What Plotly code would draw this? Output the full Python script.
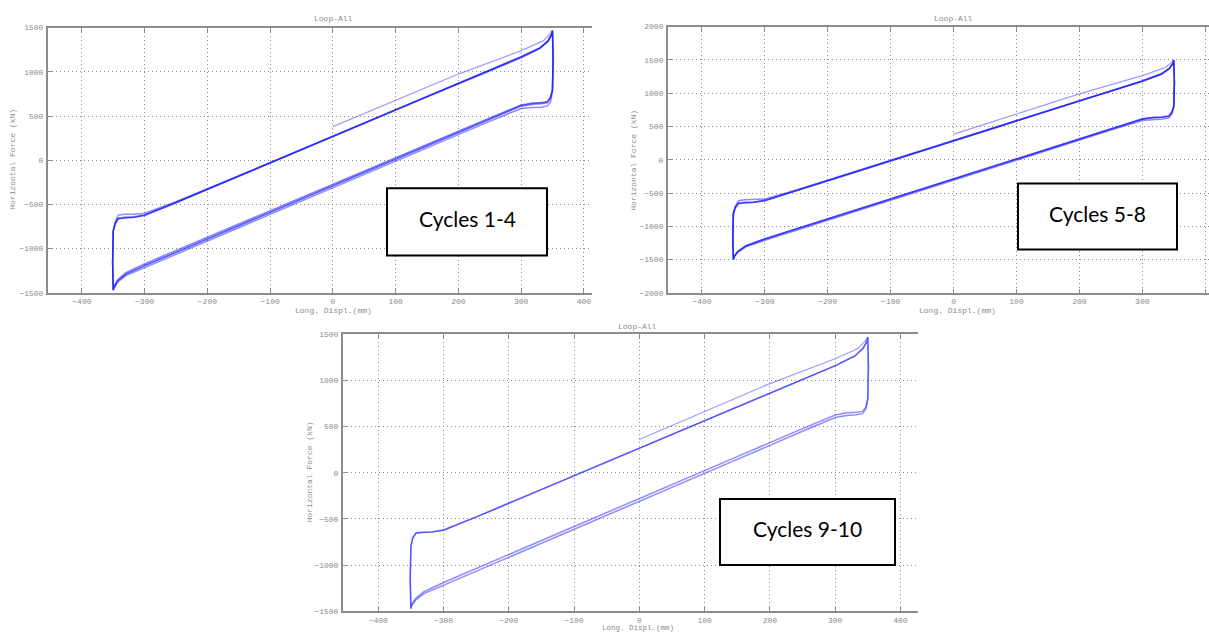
import plotly.graph_objects as go

W, H = 1209, 637

# ---------------- data ----------------
# displacement path around one hysteresis loop (mm)
DISP_LOOP = [-347, -342, -332, -318, -300, -250, -150, -50, 50, 150, 250, 300, 330, 343, 349, 350,
             351, 350, 347, 342, 332, 318, 300, 250, 150, 50, -50, -150, -250, -300, -330, -343,
             -349, -350, -351, -350, -347]
# first loading segment (starts at zero displacement)
DISP_INIT = [0, 100, 200, 300, 335, 345, 350]

# Horizontal force (kN) per cycle, following DISP_LOOP
CYCLE_1 = [-720, -665, -652, -648, -625, -480, -180, 120, 420, 720, 1020, 1170, 1270, 1350, 1430, 1470,
           1150, 800, 720, 665, 652, 648, 625, 480, 180, -120, -420, -720, -1020, -1170, -1270, -1350,
           -1430, -1470, -1150, -800, -720]
CYCLE_2 = [-700, -620, -610, -612, -600, -470, -175, 125, 425, 720, 1010, 1160, 1265, 1345, 1425, 1460,
           1140, 780, 660, 615, 600, 598, 585, 440, 140, -160, -460, -760, -1060, -1215, -1305, -1380,
           -1445, -1465, -1150, -800, -700]
CYCLE_3 = [-710, -655, -645, -640, -618, -478, -182, 118, 418, 716, 1015, 1165, 1268, 1348, 1428, 1465,
           1145, 790, 705, 650, 638, 632, 612, 462, 160, -140, -440, -742, -1042, -1195, -1290, -1365,
           -1438, -1468, -1150, -800, -710]
CYCLE_4 = [-715, -660, -650, -646, -622, -478, -178, 122, 422, 722, 1022, 1172, 1272, 1352, 1432, 1470,
           1150, 795, 712, 660, 648, 642, 620, 470, 168, -135, -438, -738, -1038, -1188, -1285, -1362,
           -1436, -1470, -1150, -800, -715]
CYCLE_5 = [-720, -660, -648, -642, -615, -465, -165, 135, 435, 735, 1035, 1185, 1290, 1375, 1455, 1500,
           1170, 810, 720, 660, 645, 640, 615, 465, 165, -135, -435, -735, -1035, -1185, -1290, -1375,
           -1455, -1500, -1170, -810, -720]
CYCLE_6 = [-700, -615, -600, -600, -590, -455, -160, 140, 440, 738, 1032, 1180, 1285, 1370, 1450, 1495,
           1160, 790, 690, 628, 612, 606, 590, 445, 145, -155, -458, -758, -1058, -1210, -1308, -1390,
           -1462, -1495, -1160, -790, -700]
CYCLE_7 = [-710, -650, -640, -636, -610, -462, -163, 137, 437, 736, 1034, 1183, 1288, 1372, 1452, 1498,
           1165, 800, 710, 652, 637, 632, 608, 458, 158, -142, -443, -743, -1042, -1192, -1295, -1380,
           -1457, -1497, -1165, -800, -710]
CYCLE_8 = [-715, -655, -645, -640, -612, -468, -170, 130, 430, 730, 1030, 1180, 1285, 1370, 1450, 1497,
           1168, 805, 715, 655, 640, 636, 612, 462, 162, -140, -440, -740, -1040, -1190, -1292, -1378,
           -1456, -1498, -1168, -805, -715]
CYCLE_9 = [-700, -650, -645, -640, -620, -478, -180, 118, 415, 712, 1010, 1160, 1265, 1350, 1430, 1470,
           1150, 800, 710, 665, 655, 650, 625, 478, 175, -128, -430, -735, -1035, -1188, -1288, -1365,
           -1435, -1470, -1150, -800, -700]
CYCLE_10 = [-705, -655, -648, -642, -622, -480, -182, 115, 413, 710, 1008, 1158, 1262, 1348, 1428, 1468,
            1145, 790, 690, 640, 628, 620, 598, 450, 145, -158, -460, -763, -1063, -1213, -1308, -1380,
            -1442, -1472, -1148, -795, -705]

INIT_A = [380, 680, 975, 1240, 1350, 1420, 1470]
INIT_B = [385, 690, 990, 1265, 1380, 1450, 1500]
INIT_C = [360, 665, 965, 1235, 1345, 1420, 1470]

PANEL_LABELS = ["Cycles 1-4", "Cycles 5-8", "Cycles 9-10"]
X_TICKS = [-400, -300, -200, -100, 0, 100, 200, 300, 400]
Y_TICKS_A = [-1500, -1000, -500, 0, 500, 1000, 1500]
Y_TICKS_B = [-2000, -1500, -1000, -500, 0, 500, 1000, 1500, 2000]
Y_TICKS_C = [-1500, -1000, -500, 0, 500, 1000, 1500]

# ---------------- helpers ----------------
def px(x):
    return x / W

def py(y):
    return 1 - y / H

LINE_COL = "rgba(25,25,255,0.5)"
INIT_COL = "rgba(60,60,255,0.5)"
MONO = "Liberation Mono"
GREY = "#8a8a8a"
GRID = "1px,3px"

fig = go.Figure()

panels = [
    ("x", "y", [CYCLE_1, CYCLE_2, CYCLE_3, CYCLE_4], INIT_A),
    ("x2", "y2", [CYCLE_5, CYCLE_6, CYCLE_7, CYCLE_8], INIT_B),
    ("x3", "y3", [CYCLE_9, CYCLE_10], INIT_C),
]
for xa, ya, cycles, init in panels:
    for cyc in cycles:
        fig.add_trace(go.Scatter(x=DISP_LOOP, y=cyc, mode="lines", xaxis=xa, yaxis=ya,
                                 line=dict(color=LINE_COL, width=1.5), showlegend=False,
                                 hoverinfo="skip"))
    fig.add_trace(go.Scatter(x=DISP_INIT, y=init, mode="lines", xaxis=xa, yaxis=ya,
                             line=dict(color=INIT_COL, width=1.2), showlegend=False,
                             hoverinfo="skip"))

def xax(domain, rng, anchor):
    return dict(domain=domain, range=rng, anchor=anchor, tickvals=X_TICKS,
                showgrid=True, gridcolor="#8a8a8a", griddash=GRID, gridwidth=1,
                zeroline=False, showline=True, linecolor="#8c8c8c", linewidth=2,
                mirror="ticks", ticks="inside", ticklen=4, tickcolor="#8c8c8c",
                tickfont=dict(family=MONO, size=8, color=GREY), ticklabelstandoff=0)

def yax(domain, rng, anchor, ticks):
    return dict(domain=domain, range=rng, anchor=anchor, tickvals=ticks,
                showgrid=True, gridcolor="#8a8a8a", griddash=GRID, gridwidth=1,
                zeroline=False, showline=True, linecolor="#8c8c8c", linewidth=2,
                ticks="inside", ticklen=4, tickcolor="#8c8c8c",
                tickfont=dict(family=MONO, size=8, color=GREY), ticklabelstandoff=1)

fig.update_layout(
    width=W, height=H,
    margin=dict(l=0, r=0, t=0, b=0),
    paper_bgcolor="white", plot_bgcolor="white",
    xaxis=xax([px(48), px(592)], [-454, 413], "y"),
    yaxis=yax([py(293), py(24)], [-1500, 1500], "x", Y_TICKS_A),
    xaxis2=xax([px(668), 1.0], [-454, 406], "y2"),
    yaxis2=yax([py(293), py(23)], [-2000, 2000], "x2", Y_TICKS_B),
    xaxis3=xax([px(343), px(918)], [-454, 427], "y3"),
    yaxis3=yax([py(616), py(335)], [-1500, 1500], "x3", Y_TICKS_C),
)

annotations = []
shapes = []
small = dict(family=MONO, size=8, color=GREY)
# panel titles, axis titles
for (tx, ty), (ylx, yly), (xlx, xly, xls) in [
    ((333, 15), (13, 158), (333, 311, 8)),
    ((953, 15), (634, 158), (957, 311, 8)),
    ((637, 327), (309, 475), (638, 632.5, 7.5)),
]:
    annotations.append(dict(text="Loop-All", x=px(tx), y=py(ty), xref="paper", yref="paper",
                            showarrow=False, font=small, xanchor="center", yanchor="middle"))
    annotations.append(dict(text="Horizontal Force (kN)", x=px(ylx), y=py(yly), xref="paper",
                            yref="paper", showarrow=False, font=small, textangle=-90,
                            xanchor="center", yanchor="middle"))
    annotations.append(dict(text="Long. Displ.(mm)", x=px(xlx), y=py(xly), xref="paper",
                            yref="paper", showarrow=False,
                            font=dict(family=MONO, size=xls, color=GREY),
                            xanchor="center", yanchor="middle"))

# label boxes
for label, (x0, y0, x1, y1) in zip(PANEL_LABELS, [(387, 187, 547, 255),
                                                   (1018, 182, 1177, 249),
                                                   (720, 502, 895, 569)]):
    shapes.append(dict(type="rect", xref="paper", yref="paper", x0=px(x0), x1=px(x1),
                       y0=py(y1), y1=py(y0), line=dict(color="black", width=2),
                       fillcolor="white", layer="above"))
    annotations.append(dict(text=label, x=px((x0 + x1) / 2), y=py((y0 + y1) / 2 - 3),
                            xref="paper", yref="paper", showarrow=False,
                            font=dict(family="Lato", size=21, color="black"),
                            xanchor="center", yanchor="middle"))

fig.update_layout(annotations=annotations, shapes=shapes)
fig.write_html("out.html", config={"displayModeBar": False},
               post_script="document.body.style.margin='0px';document.body.style.overflow='hidden';")
